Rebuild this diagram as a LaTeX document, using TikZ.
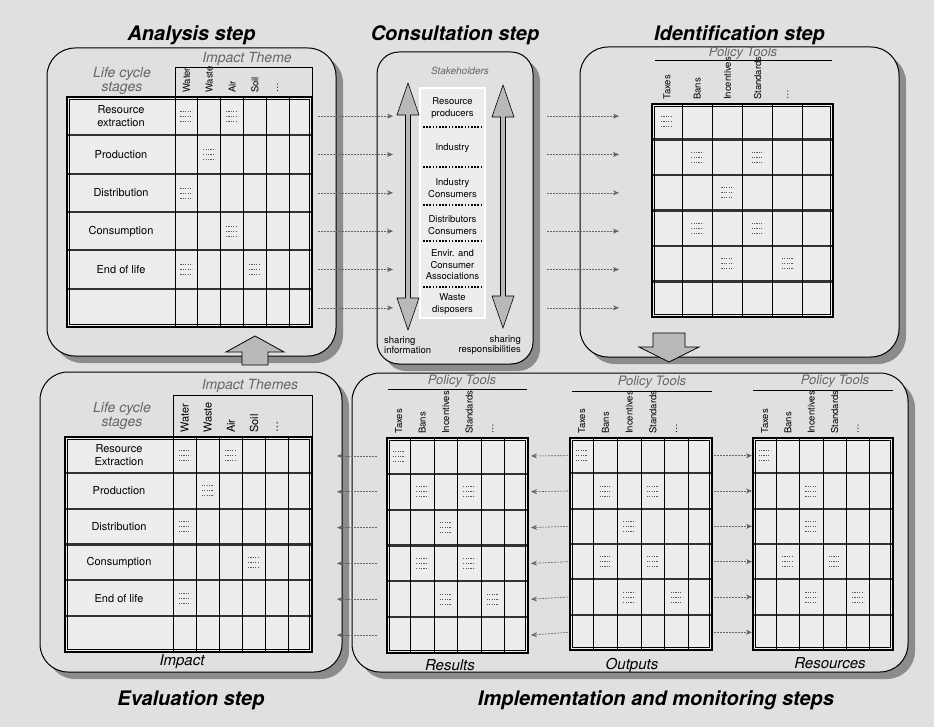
\documentclass[tikz,border=0pt]{standalone}
\usepackage{fontspec}
\setmainfont{TeX Gyre Heros}
\usepackage{tikz}
\usetikzlibrary{arrows.meta,positioning,shadows}

\definecolor{paper}{gray}{0.88}
\definecolor{shade}{gray}{0.55}

\tikzset{
  cellnote/.pic={
    \foreach \k in {-5,0,5}
      \draw[line width=0.6pt, black!65, dash pattern=on 1.2pt off 1.2pt] (-6,\k) -- (6,\k);
  }
}

% grid: name, left, top, first data column, right, bottom
\newcommand{\lcgrid}[6]{%
  \pgfmathsetmacro\gcw{(#5-#4)/6}
  \pgfmathsetmacro\grh{(#6-#3)/6}
  \fill[cellfill] (#2,#3) rectangle (#5,#6);
  \foreach \i in {1,...,5}
    \draw[rowline] (#2,{#3+\i*\grh}) -- (#5,{#3+\i*\grh});
  \foreach \j in {0,...,5}
    \draw[colline] ({#4+\j*\gcw},#3) -- ({#4+\j*\gcw},#6);
  \draw[tabframe] (#2,#3) rectangle (#5,#6);
  \draw[line width=0.5pt] ({#2+2.5},{#3+2.5}) rectangle ({#5-2.5},{#6-2.5});
  \foreach \i in {1,...,6} {
    \coordinate (#1-w\i) at (#2,{#3+(\i-0.5)*\grh});
    \coordinate (#1-e\i) at (#5,{#3+(\i-0.5)*\grh});
    \coordinate (#1-s\i) at ({(#2+#4)/2},{#3+(\i-0.5)*\grh});
    \coordinate (#1-n\i) at ({#4+(\i-0.5)*\gcw},{#3-3});
    \foreach \j in {1,...,6}
      \coordinate (#1-\j-\i) at ({#4+(\j-0.5)*\gcw},{#3+(\i-0.5)*\grh});
  }%
}

\newcommand{\sharearrow}[3]{%
  \filldraw[sharefill] (#1,#2) -- ++(11,32) -- ++(-8.5,0) -- ({#1+2.5},{#3-32}) -- ++(8.5,0)
    -- (#1,#3) -- ++(-11,-32) -- ++(8.5,0) -- ({#1-2.5},{#2+32}) -- ++(-8.5,0) -- cycle;}

\begin{document}
\begin{tikzpicture}[x=1pt, y=-1pt,
  panel/.style={draw, line width=1pt, rounded corners=28pt, fill=paper, inner sep=0pt,
    drop shadow={shadow xshift=7pt, shadow yshift=-7pt, fill=shade, opacity=1}},
  steptitle/.style={font=\fontsize{20}{22}\selectfont\bfseries\itshape, inner sep=0pt},
  cellfill/.style={fill=white!93!black},
  rowline/.style={line width=2.2pt, black!80},
  colline/.style={line width=0.9pt},
  tabframe/.style={line width=1.6pt},
  stagetxt/.style={font=\fontsize{11}{12.5}\selectfont, align=center, inner sep=1pt},
  colhead/.style={font=\fontsize{11}{12}\selectfont, rotate=90, anchor=west, inner sep=1pt},
  toolhead/.style={font=\fontsize{9.5}{11}\selectfont, rotate=90, anchor=west, inner sep=1pt},
  themetxt/.style={font=\fontsize{14}{14}\selectfont\itshape, text=black!60, align=center, inner sep=1pt},
  tooltitle/.style={font=\fontsize{13}{15}\selectfont\itshape, text=black!60, inner sep=1pt},
  tabcaption/.style={font=\fontsize{15}{17}\selectfont\itshape, inner sep=1pt},
  staketxt/.style={font=\fontsize{9.5}{11.5}\selectfont, align=center, inner sep=0pt},
  sharetxt/.style={font=\fontsize{9.5}{10.5}\selectfont, inner sep=0pt},
  stakebox/.style={draw, line width=0.6pt, double, double distance=1.6pt, fill=white!93!black},
  stakesep/.style={line width=1.6pt, dash pattern=on 1.6pt off 1.6pt},
  blockarrow/.style={draw, line width=0.8pt, fill=gray!55},
  sharefill/.style={draw, line width=0.6pt, fill=gray!55},
  flow/.style={line width=0.6pt, black!60, dash pattern=on 2pt off 1pt, -{Stealth[length=6pt,width=5pt]}}]

\useasboundingbox (0,0) rectangle (934,727);
\fill[paper] (0,0) rectangle (934,727);

% panels
\node[panel, minimum width=289pt, minimum height=308pt] (anaPanel) at (191.5,202) {};
\node[panel, rounded corners=22pt, minimum width=156pt, minimum height=312pt] (conPanel) at (455,208) {};
\node[panel, minimum width=319pt, minimum height=310pt] (idePanel) at (739.5,202) {};
\node[panel, minimum width=302pt, minimum height=300pt] (evaPanel) at (191,522) {};
\node[panel, minimum width=556pt, minimum height=299pt] (impPanel) at (630,522.5) {};

\node[steptitle, above=2pt of anaPanel] (anaTitle) {Analysis step};
\node[steptitle, above=6pt of conPanel] (conTitle) {Consultation step};
\node[steptitle, above=1pt of idePanel] (ideTitle) {Identification step};
\node[steptitle, below=18pt of evaPanel] (evaTitle) {Evaluation step};
\node[steptitle, below=18pt of impPanel, xshift=26pt] (impTitle) {Implementation and monitoring steps};

% analysis
\lcgrid{ana}{67}{97}{175}{312}{327}
\draw[line width=0.8pt] (175,97) -- (175,67) -- (312,67) -- (312,97);
\node[themetxt] (ana-theme) at (247,59) {Impact Theme};
\node[themetxt] (ana-life) at (122,81) {Life cycle\\stages};
\foreach \lab [count=\j] in {Water,Waste,Air,Soil,\ldots}
  \node[colhead, font=\fontsize{9.5}{11}\selectfont] (ana-h\j) at (ana-n\j) {\lab};
\foreach \lab [count=\i] in {{Resource\\extraction},Production,Distribution,Consumption,{End of life}}
  \node[stagetxt] (ana-t\i) at (ana-s\i) {\lab};
\foreach \c/\r in {1/1,3/1,2/2,1/3,3/4,1/5,4/5}
  \pic at (ana-\c-\r) {cellnote};

% evaluation
\lcgrid{eva}{65}{437}{173}{312}{652}
\draw[line width=0.8pt] (173,437) -- (173,395) -- (312,395) -- (312,437);
\node[themetxt] (eva-theme) at (250,386) {Impact Themes};
\node[themetxt] (eva-life) at (122,416) {Life cycle\\stages};
\node[tabcaption] (eva-cap) at (182,662) {Impact};
\foreach \lab [count=\j] in {Water,Waste,Air,Soil,\ldots}
  \node[colhead] (eva-h\j) at (eva-n\j) {\lab};
\foreach \lab [count=\i] in {{Resource\\Extraction},Production,Distribution,Consumption,{End of life}}
  \node[stagetxt] (eva-t\i) at (eva-s\i) {\lab};
\foreach \c/\r in {1/1,3/1,2/2,1/3,4/4,1/5}
  \pic at (eva-\c-\r) {cellnote};

% policy tool tables
\lcgrid{ide}{652}{104}{652}{833}{317}
\lcgrid{res}{387}{438}{387}{528}{653}
\lcgrid{out}{570}{438}{570}{712}{650}
\lcgrid{rsc}{753}{438}{753}{893}{650}
\node[tooltitle] (ide-pt) at (743,53) {Policy Tools};
\node[tooltitle] (res-pt) at (462,381) {Policy Tools};
\node[tooltitle] (out-pt) at (652,382) {Policy Tools};
\node[tooltitle] (rsc-pt) at (835,381) {Policy Tools};
\draw[line width=0.8pt] (655,60) -- (832,60);
\draw[line width=0.8pt] (388,389) -- (527,389);
\draw[line width=0.8pt] (572,391) -- (712,391);
\draw[line width=0.8pt] (753,390) -- (893,390);
\foreach \tb in {ide,res,out,rsc}
  \foreach \lab [count=\j] in {Taxes,Bans,Incentives,Standards,\ldots}
    \node[toolhead] (\tb-h\j) at (\tb-n\j) {\lab};
\foreach \tb in {ide,res,out}
  \foreach \c/\r in {1/1,2/2,4/2,3/3,2/4,4/4,3/5,5/5}
    \pic at (\tb-\c-\r) {cellnote};
\foreach \c/\r in {1/1,3/2,3/3,2/4,4/4,3/5,5/5}
  \pic at (rsc-\c-\r) {cellnote};
\node[tabcaption] (res-cap) at (450,665) {Results};
\node[tabcaption] (out-cap) at (632,665) {Outputs};
\node[tabcaption] (rsc-cap) at (830,663) {Resources};

% consultation
\node[themetxt, font=\fontsize{10}{12}\selectfont\itshape] (stake-lab) at (460,71) {Stakeholders};
\node[stakebox, minimum width=65pt, minimum height=230pt] (stake) at (452.5,203) {};
\foreach \y in {127,167,205,241,287}
  \draw[stakesep] (423,\y) -- (482,\y);
\node[staketxt] (st1) at (452.5,108) {Resource\\producers};
\node[staketxt] (st2) at (452.5,148) {Industry};
\node[staketxt] (st3) at (452.5,188) {Industry\\Consumers};
\node[staketxt] (st4) at (452.5,225) {Distributors\\Consumers};
\node[staketxt] (st5) at (452.5,265) {Envir. and\\Consumer\\Associations};
\node[staketxt] (st6) at (452.5,304) {Waste\\disposers};
\sharearrow{408}{83}{330}
\sharearrow{503}{85}{328}
\node[sharetxt, anchor=west, align=left] (infoLab) at (384,345) {sharing\\information};
\node[sharetxt, anchor=east, align=right] (respLab) at (521,345) {sharing\\responsibilities};

% block arrows
\filldraw[blockarrow] (255,336) -- (284,352) -- (268,352) -- (268,365) -- (242,365) -- (242,352) -- (226,352) -- cycle;
\filldraw[blockarrow] (653,333) -- (685,333) -- (685,347) -- (699,347) -- (669,362) -- (639,347) -- (653,347) -- cycle;

% connectors
\coordinate (conIn) at (393,0);
\coordinate (conOut) at (547,0);
\coordinate (ideIn) at (619,0);
\coordinate (evaEdge) at (337,0);
\foreach \i in {1,...,6} {
  \draw[flow] ([xshift=6pt]ana-e\i) -- (ana-e\i -| conIn);
  \draw[flow] (ana-e\i -| conOut) -- (ana-e\i -| ideIn);
  \draw[flow] ([xshift=-10pt]res-w\i) -- (res-w\i -| evaEdge);
  \draw[flow] ([xshift=-2pt]out-w\i) -- ([xshift=3pt]res-e\i);
  \draw[flow] ([xshift=2pt]out-e\i) -- ([xshift=-1pt]rsc-w\i);
}
\end{tikzpicture}
\end{document}
